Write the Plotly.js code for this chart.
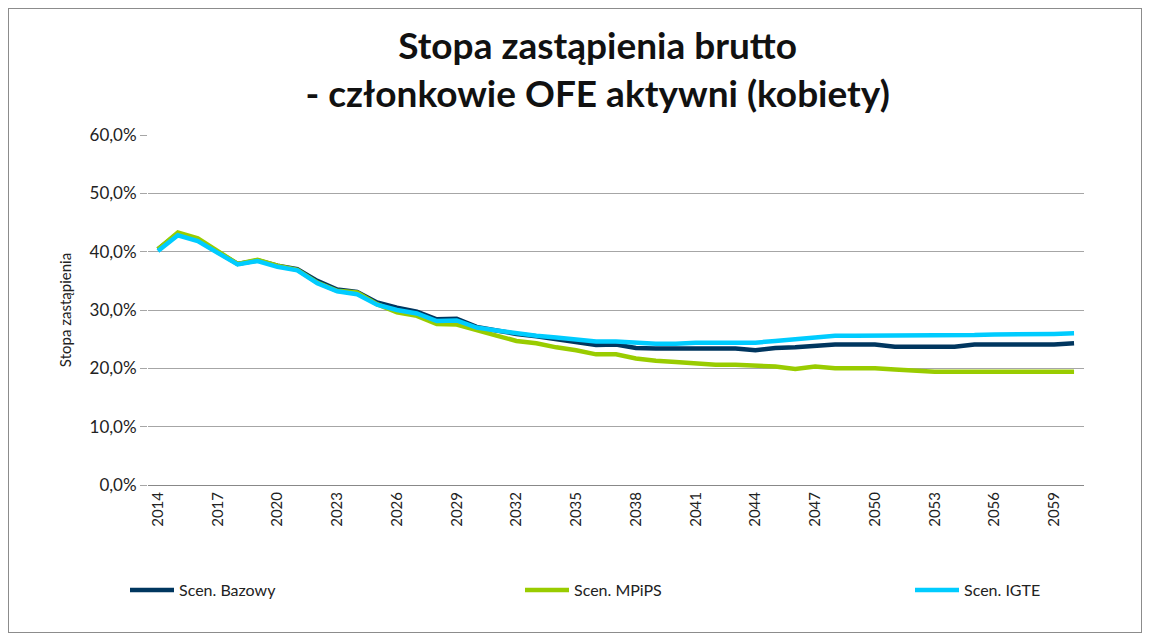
<!DOCTYPE html>
<html>
<head>
<meta charset="utf-8">
<script src="https://cdn.plot.ly/plotly-3.0.1.min.js"></script>
<style>
  body { margin: 0; background: #fff; }
  #chart { position: absolute; left: 8px; top: 8px; width: 1132px; height: 623px; border: 1px solid #8c8c8c; }
</style>
</head>
<body>
<div id="chart"></div>
<script>
// years 2014-2060
var years = [];
for (var y = 2014; y <= 2060; y++) years.push(y);

// replacement rate, %
var bazowy = [40.4, 43.1, 42.0, 39.9, 37.9, 38.5, 37.6, 37.0, 35.0, 33.5, 33.1, 31.3, 30.4, 29.7, 28.4, 28.5,
  27.1, 26.5, 25.9, 25.5, 25.0, 24.6, 24.0, 24.1, 23.5, 23.4, 23.4, 23.4, 23.4, 23.4, 23.1, 23.5,
  23.6, 23.9, 24.1, 24.1, 24.1, 23.7, 23.7, 23.7, 23.7, 24.1, 24.1, 24.1, 24.1, 24.1, 24.3];
var mpips = [40.4, 43.3, 42.3, 40.1, 37.9, 38.6, 37.6, 36.9, 34.7, 33.3, 33.0, 31.0, 29.6, 29.0, 27.6, 27.5,
  26.5, 25.6, 24.7, 24.3, 23.6, 23.1, 22.4, 22.4, 21.7, 21.3, 21.1, 20.9, 20.6, 20.6, 20.4, 20.3,
  19.9, 20.3, 20.0, 20.0, 20.0, 19.8, 19.6, 19.4, 19.4, 19.4, 19.4, 19.4, 19.4, 19.4, 19.4];
var igte = [40.1, 42.8, 41.8, 39.9, 37.8, 38.4, 37.4, 36.8, 34.6, 33.2, 32.7, 30.9, 30.0, 29.4, 28.1, 28.2,
  27.0, 26.5, 26.0, 25.6, 25.3, 25.0, 24.6, 24.6, 24.4, 24.2, 24.2, 24.4, 24.4, 24.4, 24.4, 24.7,
  25.0, 25.3, 25.6, 25.6, 25.6, 25.6, 25.6, 25.6, 25.6, 25.7, 25.8, 25.8, 25.8, 25.9, 26.0];

var names = ['Scen. Bazowy', 'Scen. MPiPS', 'Scen. IGTE'];
var colors = ['#00365f', '#99cc00', '#00ccff'];
var series = [bazowy, mpips, igte];
var legendIds = ['legend', 'legend2', 'legend3'];

var traces = series.map(function (s, i) {
  return {
    x: years,
    y: s,
    name: names[i],
    legend: legendIds[i],
    type: 'scatter',
    mode: 'lines',
    line: { color: colors[i], width: 4.5 }
  };
});

// plot area is 148..1084 px across, 135..485 px down (page coords)
function legendAt(px) {
  return {
    xref: 'paper', yref: 'paper',
    x: (px - 148) / 936, xanchor: 'left',
    y: -0.30, yanchor: 'middle',
    font: { size: 16, color: '#222' },
    itemwidth: 44,
    bgcolor: 'rgba(0,0,0,0)'
  };
}

var layout = {
  width: 1132,
  height: 623,
  margin: { l: 139, r: 57, t: 126, b: 147 },
  paper_bgcolor: '#fff',
  plot_bgcolor: '#fff',
  separators: ', ',
  font: { family: 'Lato, "Open Sans", sans-serif', color: '#222' },
  title: {
    text: '<b>Stopa zastąpienia brutto<br>- członkowie OFE aktywni (kobiety)</b>',
    font: { size: 37, color: '#111' },
    x: 0.520, xanchor: 'center',
    y: 0.920, yanchor: 'top'
  },
  xaxis: {
    range: [2013.5, 2060.5],
    tick0: 2014, dtick: 3,
    tickangle: -90,
    tickfont: { size: 15 },
    showgrid: false,
    showline: true, linecolor: '#888', linewidth: 1,
    ticks: '', zeroline: false
  },
  yaxis: {
    range: [0, 60], dtick: 10,
    tickformat: '.1f', ticksuffix: '%',
    tickfont: { size: 17 },
    gridcolor: '#a6a6a6', gridwidth: 1,
    ticks: 'outside', ticklen: 7, tickcolor: '#a6a6a6',
    zeroline: true, zerolinecolor: '#888',
    title: { text: 'Stopa zastąpienia', font: { size: 15 }, standoff: 14 }
  },
  showlegend: true,
  legend: legendAt(125),
  legend2: legendAt(520),
  legend3: legendAt(910)
};

Plotly.newPlot('chart', traces, layout, { displayModeBar: false });
</script>
</body>
</html>
